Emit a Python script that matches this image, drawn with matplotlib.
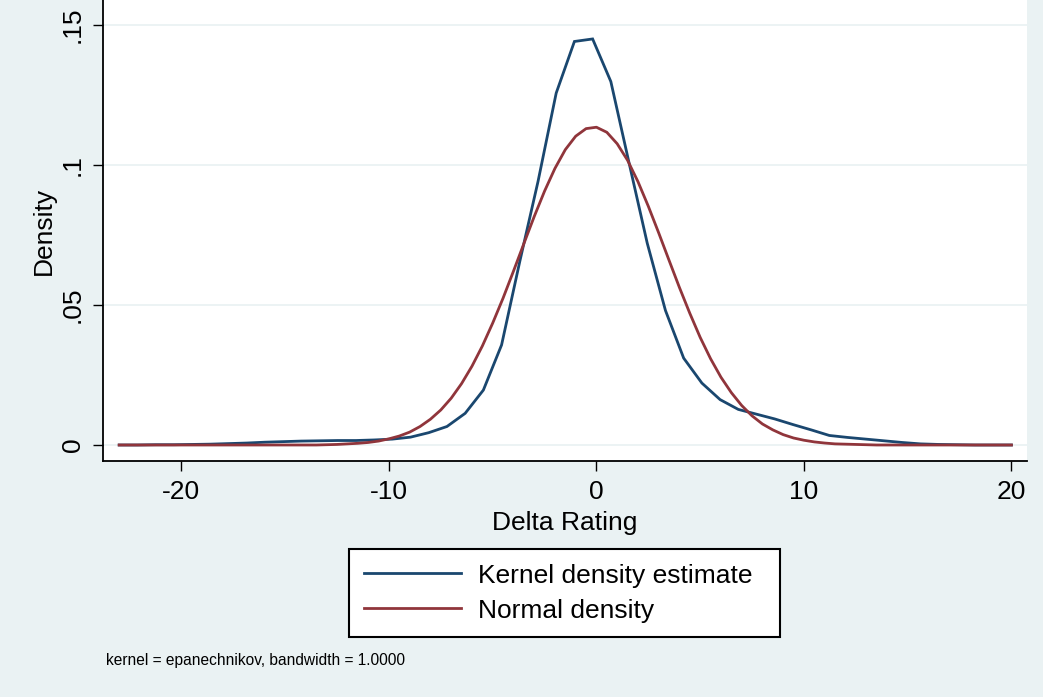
import numpy as np
import matplotlib
matplotlib.use("Agg")
import matplotlib.pyplot as plt
from matplotlib.lines import Line2D

plt.rcParams['font.family'] = ['Liberation Sans', 'DejaVu Sans']

# ---- data ----
# kernel density estimate: 50 evaluation points from -23 to 20
kde_x = np.linspace(-23.0, 20.0, 50)
kernel_density = [
    0.0000, 0.0000, 0.0001, 0.0001, 0.0002, 0.0003, 0.0005, 0.0007, 0.0010, 0.0012,
    0.0014, 0.0015, 0.0016, 0.0016, 0.0018, 0.0021, 0.0028, 0.0044, 0.0066, 0.0113,
    0.0196, 0.0357, 0.0655, 0.0940, 0.1256, 0.1440, 0.1449, 0.1297, 0.1007, 0.0720,
    0.0480, 0.0310, 0.0221, 0.0162, 0.0127, 0.0110, 0.0093, 0.0073, 0.0054, 0.0034,
    0.0027, 0.0021, 0.0015, 0.0009, 0.0004, 0.0002, 0.0001, 0.0000, 0.0000, 0.0000,
]
# normal density overlay read every 0.5 from -23 to 20
normal_x = np.arange(-23.0, 20.25, 0.5)
normal_density = (
    [0.0000] * 20 +
    [0.0001, 0.0002, 0.0004, 0.0006, 0.0009, 0.0014, 0.0022, 0.0032, 0.0046, 0.0066,
     0.0092, 0.0125, 0.0167, 0.0219, 0.0281, 0.0353, 0.0435, 0.0524, 0.0620, 0.0718,
     0.0815, 0.0906, 0.0987, 0.1054, 0.1102, 0.1129, 0.1134, 0.1116, 0.1075, 0.1016,
     0.0940, 0.0852, 0.0757, 0.0659, 0.0562, 0.0470, 0.0384, 0.0308, 0.0242, 0.0187,
     0.0141, 0.0104, 0.0075, 0.0054, 0.0037, 0.0025, 0.0017, 0.0011, 0.0007, 0.0004,
     0.0003, 0.0002, 0.0001] +
    [0.0000] * 14
)
x_ticks = [-20, -10, 0, 10, 20]
y_ticks = [0, 0.05, 0.1, 0.15]
y_tick_labels = ["0", ".05", ".1", ".15"]
series_labels = ["Kernel density estimate", "Normal density"]
note_text = "kernel = epanechnikov, bandwidth = 1.0000"

# ---- style ----
BG = "#EAF2F3"
BLUE = "#1a476f"
RED = "#90353b"
W, H = 1043, 697

fig = plt.figure(figsize=(W / 100, H / 100), dpi=100, facecolor=BG)
ax = fig.add_axes([103 / W, 1 - 461 / H, (1027 - 103) / W, 461 / H])
ax.set_facecolor("white")

ax.plot(kde_x, kernel_density, color=BLUE, lw=2.0, solid_joinstyle='miter', zorder=3)
ax.plot(normal_x, normal_density, color=RED, lw=2.0, zorder=4)

ax.set_xlim(-23.78, 20.75)
ax.set_ylim(-0.00571, 0.1588)

ax.set_xticks(x_ticks)
ax.set_xticklabels([str(t) for t in x_ticks])
ax.set_yticks(y_ticks)
ax.set_yticklabels(y_tick_labels, rotation=90, va='center')

ax.grid(axis='y', color=BG, lw=1.3, zorder=1)
ax.set_axisbelow(True)

for s in ['top', 'right']:
    ax.spines[s].set_visible(False)
for s in ['left', 'bottom']:
    ax.spines[s].set_linewidth(1.3)
    ax.spines[s].set_color('black')

ax.tick_params(axis='both', direction='out', length=7.5, width=1.0, labelsize=19, colors='black')
ax.tick_params(axis='x', pad=6)
ax.tick_params(axis='y', pad=5.5)

ax.set_xlabel("Delta Rating", fontsize=19, labelpad=5)
ax.set_ylabel("Density", fontsize=19, labelpad=4)

handles = [Line2D([0], [0], color=BLUE, lw=2.0), Line2D([0], [0], color=RED, lw=2.0)]
leg = fig.legend(handles, series_labels, loc='upper left', mode='expand',
                 bbox_to_anchor=(349 / W, 1 - 636 / H, 431 / W, 87 / H),
                 bbox_transform=fig.transFigure,
                 fontsize=19, frameon=True, fancybox=False, edgecolor='black',
                 facecolor='white', framealpha=1, handlelength=3.7, handletextpad=0.65,
                 labelspacing=0.42, borderpad=0.55, borderaxespad=0)
leg.get_frame().set_linewidth(1.5)

fig.text(106 / W, 1 - 660 / H, note_text, fontsize=11.2, va='center', ha='left')

fig.savefig("out.png", dpi=100, facecolor=BG)
